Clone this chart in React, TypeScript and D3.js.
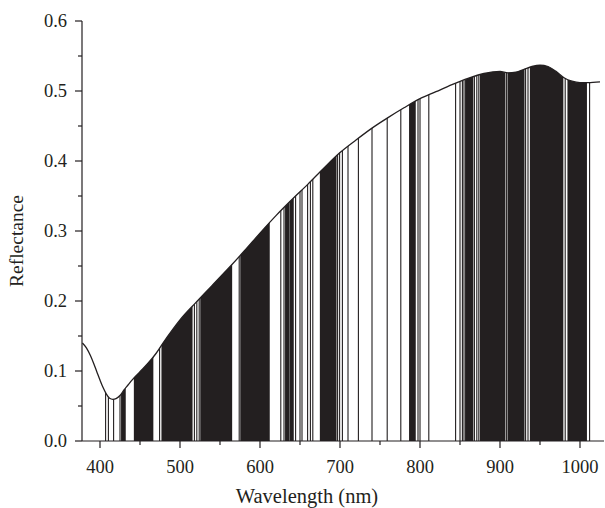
import React from 'react';
import * as d3 from 'd3';

// Reflectance spectrum (nm -> reflectance)
const wavelengths = [378, 383, 388, 392, 396, 400, 404, 408, 412, 416, 420, 425, 430, 435, 440, 450, 460, 470, 480, 490, 500, 520, 540, 560, 580, 600, 620, 640, 660, 680, 700, 720, 740, 760, 780, 800, 820, 840, 860, 880, 900, 910, 920, 930, 940, 950, 960, 970, 980, 990, 1000, 1010, 1025];
const reflectance = [0.14, 0.133, 0.122, 0.111, 0.099, 0.087, 0.076, 0.067, 0.061, 0.0595, 0.0605, 0.065, 0.073, 0.08, 0.087, 0.099, 0.111, 0.125, 0.142, 0.158, 0.173, 0.198, 0.222, 0.246, 0.271, 0.297, 0.322, 0.345, 0.367, 0.39, 0.412, 0.43, 0.447, 0.462, 0.476, 0.489, 0.499, 0.509, 0.518, 0.525, 0.528, 0.526, 0.527, 0.531, 0.535, 0.537, 0.535, 0.528, 0.519, 0.514, 0.512, 0.512, 0.513];

// selected wavelength bands [start, end] in nm (start == end is a single line)
const bandStart = [407, 410.5, 417, 425, 427, 443, 474.5, 477.5, 518, 521, 524, 526, 574, 576, 626, 630, 632, 637.5, 644.5, 650, 652.5, 659.5, 663, 666, 675.5, 697, 699.5, 703, 710, 723, 740, 759, 776, 787, 797.5, 800, 811, 844.5, 850, 853, 855, 857, 868, 871, 873.5, 875.5, 908, 910, 932, 935, 938, 981.5, 985, 1012];
const bandEnd = [407, 410.5, 417, 425, 431.5, 466, 474.5, 515, 518, 521, 524, 564.5, 574, 611.5, 626, 630, 636, 641.5, 644.5, 650, 652.5, 659.5, 663, 666, 695, 697, 699.5, 703, 710, 723, 740, 759, 776, 794, 797.5, 800, 811, 844.5, 850, 853, 855, 866, 868, 871, 873.5, 906, 908, 930, 932, 935, 978.5, 981.5, 1008, 1012];

const xTitle = 'Wavelength (nm)';
const yTitle = 'Reflectance';

const W = 605;
const H = 508;
const ink = '#231f20';
const font = '"Liberation Serif", "Times New Roman", serif';

const App: React.FC = () => {
    const x = d3.scaleLinear().domain([377.5, 1030]).range([82, 604]);
    const y = d3.scaleLinear().domain([0, 0.6]).range([441, 21]);

    const pts: [number, number][] = wavelengths.map((w, i) => [w, reflectance[i]]);

    const line = d3.line<[number, number]>()
        .x(d => x(d[0]))
        .y(d => y(d[1]))
        .curve(d3.curveMonotoneX);

    const area = d3.area<[number, number]>()
        .x(d => x(d[0]))
        .y0(y(0))
        .y1(d => y(d[1]))
        .curve(d3.curveMonotoneX);

    const xMajor = x.ticks(7);
    const xMinor = x.ticks(14).filter(t => t % 100 !== 0);
    const yMajor = y.ticks(6);
    const yMinor = y.ticks(12).filter(t => Math.round(t * 100) % 10 !== 0);

    const x0 = x.range()[0];
    const y0 = y(0);

    return (
        <svg width={W} height={H} style={{ position: 'absolute', left: 0, top: 0, background: '#fff' }}>
            <defs>
                <clipPath id="under">
                    <path d={area(pts) || ''} />
                </clipPath>
            </defs>

            {/* bands */}
            <g clipPath="url(#under)" fill={ink}>
                {bandStart.map((s, i) => {
                    const a = x(s) - 0.55;
                    const b = x(bandEnd[i]) + 0.55;
                    return <rect key={i} x={a} y={y(0.6)} width={b - a} height={y0 - y(0.6)} />;
                })}
            </g>

            {/* spectrum */}
            <path d={line(pts) || ''} fill="none" stroke={ink} strokeWidth={1.3} />

            {/* axes */}
            <g stroke={ink} strokeWidth={1.2} fill="none">
                <line x1={x0} x2={x0} y1={y(0.6)} y2={y0} />
                <line x1={x0} x2={x.range()[1]} y1={y0} y2={y0} />
                {yMajor.map(t => <line key={'ym' + t} x1={x0 - 7} x2={x0} y1={y(t)} y2={y(t)} />)}
                {yMinor.map(t => <line key={'yn' + t} x1={x0 - 4} x2={x0} y1={y(t)} y2={y(t)} />)}
                {xMajor.map(t => <line key={'xm' + t} x1={x(t)} x2={x(t)} y1={y0} y2={y0 + 7} />)}
                {xMinor.map(t => <line key={'xn' + t} x1={x(t)} x2={x(t)} y1={y0} y2={y0 + 4} />)}
            </g>

            <g fill={ink} fontFamily={font} fontSize={18.5}>
                {yMajor.map(t => (
                    <text key={'yl' + t} x={x0 - 15} y={y(t)} dy="0.35em" textAnchor="end">{t.toFixed(1)}</text>
                ))}
                {xMajor.map(t => (
                    <text key={'xl' + t} x={x(t)} y={473} textAnchor="middle">{t}</text>
                ))}
                <text x={307} y={503} fontSize={20.5} textAnchor="middle">{xTitle}</text>
                <text transform={`translate(23,241) rotate(-90)`} fontSize={19.5} textAnchor="middle">{yTitle}</text>
            </g>
        </svg>
    );
};

export default App;
